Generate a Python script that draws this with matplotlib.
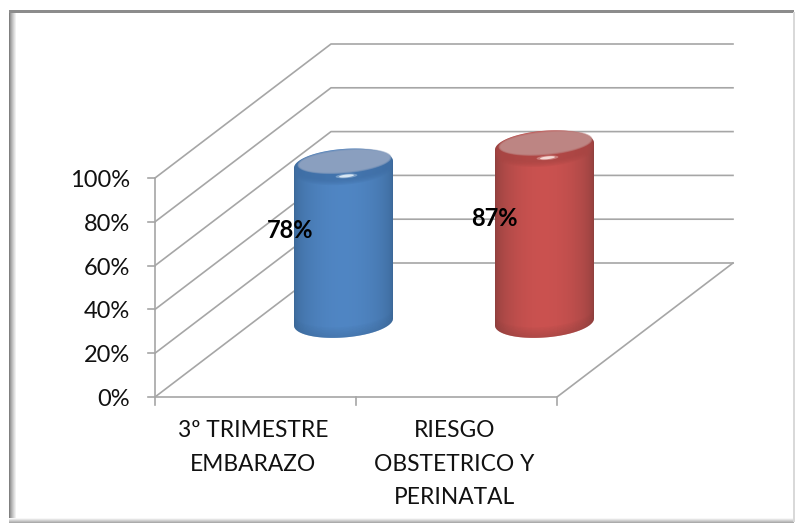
import numpy as np
import matplotlib
matplotlib.use("Agg")
import matplotlib.pyplot as plt
from matplotlib.patches import Polygon, Rectangle
from matplotlib.colors import LinearSegmentedColormap

categories = ["3º TRIMESTRE\nEMBARAZO", "RIESGO\nOBSTETRICO Y\nPERINATAL"]
values = [78, 87]
value_labels = ["78%", "87%"]
y_ticks = [0, 20, 40, 60, 80, 100]
y_tick_labels = ["0%", "20%", "40%", "60%", "80%", "100%"]

W, H = 795, 525
plt.rcParams["font.family"] = ["Lato", "DejaVu Sans"]
fig = plt.figure(figsize=(W / 100, H / 100), dpi=100, facecolor="white")

# front face of the plot box, in pixels
L, R, T, B = 155, 557, 178, 397
PX = (R - L) / 2      # px per x unit
PY = (B - T) / 100    # px per y unit
ax = fig.add_axes([0, 0, 1, 1])
ax.set_xlim(-L / PX, (W - L) / PX)
ax.set_ylim((B - H) / PY, B / PY)
ax.axis("off")
DX = 176 / PX         # depth vector in data units
DY = 134 / PY
GRID = "#a6a6a6"

def fx(px):
    return px / W
def fy(py):
    return 1 - py / H

# outer frame
for i in range(8):
    g = 0.5 + 0.5 * (i / 7) ** 0.8
    fig.add_artist(Rectangle((fx(9 + i), fy(522)), 1 / W, 510 / H, color=str(g), lw=0, transform=fig.transFigure))
fig.add_artist(Rectangle((fx(9), fy(12.5)), 785 / W, 2.5 / H, color="#8c8c8c", lw=0, transform=fig.transFigure))
for i in range(5):
    g = 0.97 - 0.3 * (i / 4)
    fig.add_artist(Rectangle((fx(9), fy(519 + i)), 785 / W, 1 / H, color=str(g), lw=0, transform=fig.transFigure))
fig.add_artist(Rectangle((fx(793), fy(522)), 2 / W, 510 / H, color="#d9d9d9", lw=0, transform=fig.transFigure))

# walls, floor and gridlines
for v in y_ticks:
    ax.plot([0, DX, 2 + DX], [v, v + DY, v + DY], color=GRID, lw=1.2, zorder=1)
    ax.plot([-7 / PX, 0], [v, v], color=GRID, lw=1.2, zorder=1)
ax.plot([0, 0], [0, 100], color=GRID, lw=1.2, zorder=1)
ax.plot([0, 2, 2 + DX], [0, 0, DY], color=GRID, lw=1.2, zorder=1)
for x in [0, 1, 2]:
    ax.plot([x, x], [0, -8 / PY], color=GRID, lw=1.2, zorder=1)

# tick labels
for v, s in zip(y_ticks, y_tick_labels):
    ax.text(-25 / PX, v - 2.5 / PY, s, ha="right", va="center", fontsize=17, color="#111111")
for i, s in enumerate(categories):
    ax.text(i + 0.49, -23 / PY, s, ha="center", va="top", fontsize=16.4, color="#111111", linespacing=1.74)

# cylinders
A, Bm, SH = 49.5 / PX, 15.5 / PY, 3.5 / PY
H_SCALE = 2.02 / PY
styles = [
    dict(edge="#3b6797", mid="#5086c4", top="#8a9fbf", rim="#3f6ea5", hi="#e3f0fa"),
    dict(edge="#8c3f3d", mid="#cb5250", top="#bd8583", rim="#a84543", hi="#fbe3de"),
]
t = np.linspace(0, 2 * np.pi, 120)

def ell(cx, cy, a=A, b=Bm, s=SH, tt=t):
    return np.c_[cx + a * np.cos(tt), cy + b * np.sin(tt) + s * np.cos(tt)]

for i, (v, st) in enumerate(zip(values, styles)):
    cx = i + 0.5 + DX * 0.5
    cy0 = (397 - 322) / PY
    cy1 = cy0 + v * H_SCALE
    low = ell(cx, cy0, tt=np.linspace(np.pi, 2 * np.pi, 60))
    up = ell(cx, cy1, tt=np.linspace(0, np.pi, 60))
    body = Polygon(np.vstack([low, up]), closed=True, fc="none", ec="none")
    ax.add_patch(body)
    cm = LinearSegmentedColormap.from_list("c", [st["edge"], st["mid"], st["mid"], st["edge"]])
    prof = np.linspace(0, 1, 200)[None, :]
    shade = 0.33 * np.sin(np.pi * prof) ** 0.5
    im = ax.imshow(cm(shade), extent=[cx - A, cx + A, cy0 - Bm - 6 / PY, cy1 + Bm + 6 / PY],
                   aspect="auto", zorder=3)
    im.set_clip_path(body)
    # bottom bevel
    for k in range(7):
        ax.add_patch(Polygon(np.vstack([ell(cx, cy0 + (6 - k) * 1.5 / PY, tt=np.linspace(np.pi, 2 * np.pi, 60)),
                                        ell(cx, cy0 + (7 - k) * 1.5 / PY, tt=np.linspace(2 * np.pi, np.pi, 60))]),
                             closed=True, fc=st["edge"], ec="none", alpha=0.08 + 0.06 * k, zorder=4))
    # soft rim band under the top face
    for k in range(5):
        ax.add_patch(Polygon(ell(cx, cy1 - (k * 1.2) / PY, a=A * 0.995), closed=True, fc=st["rim"],
                             ec="none", alpha=0.22, zorder=4))
    # top face with a soft edge
    for k in range(4):
        ax.add_patch(Polygon(ell(cx + 1 / PX, cy1 + 3.2 / PY, a=A * (0.95 - 0.012 * k), b=(12.2 - 0.5 * k) / PY,
                                 s=SH * 1.1), closed=True, fc=st["top"], ec="none",
                             alpha=0.45 if k < 3 else 1.0, zorder=5))
    # highlight
    for a_f, b_p, al in [(0.22, 2.2, 0.35), (0.15, 1.4, 0.9)]:
        ax.add_patch(Polygon(ell(cx + 3 / PX, cy1 - 11.5 / PY, a=A * a_f, b=b_p / PY, s=0.8 / PY),
                             closed=True, fc=st["hi"], ec="none", alpha=al, zorder=6))

# data labels
for pos, lab in zip([(290, 230), (494, 219)], value_labels):
    ax.text((pos[0] - L) / PX, (B - pos[1]) / PY, lab, ha="center", va="center",
            fontsize=17, fontweight="bold", color="black", zorder=10)

ax.set_xlim(-L / PX, (W - L) / PX)
ax.set_ylim((B - H) / PY, B / PY)
fig.savefig("out.png", dpi=100)
